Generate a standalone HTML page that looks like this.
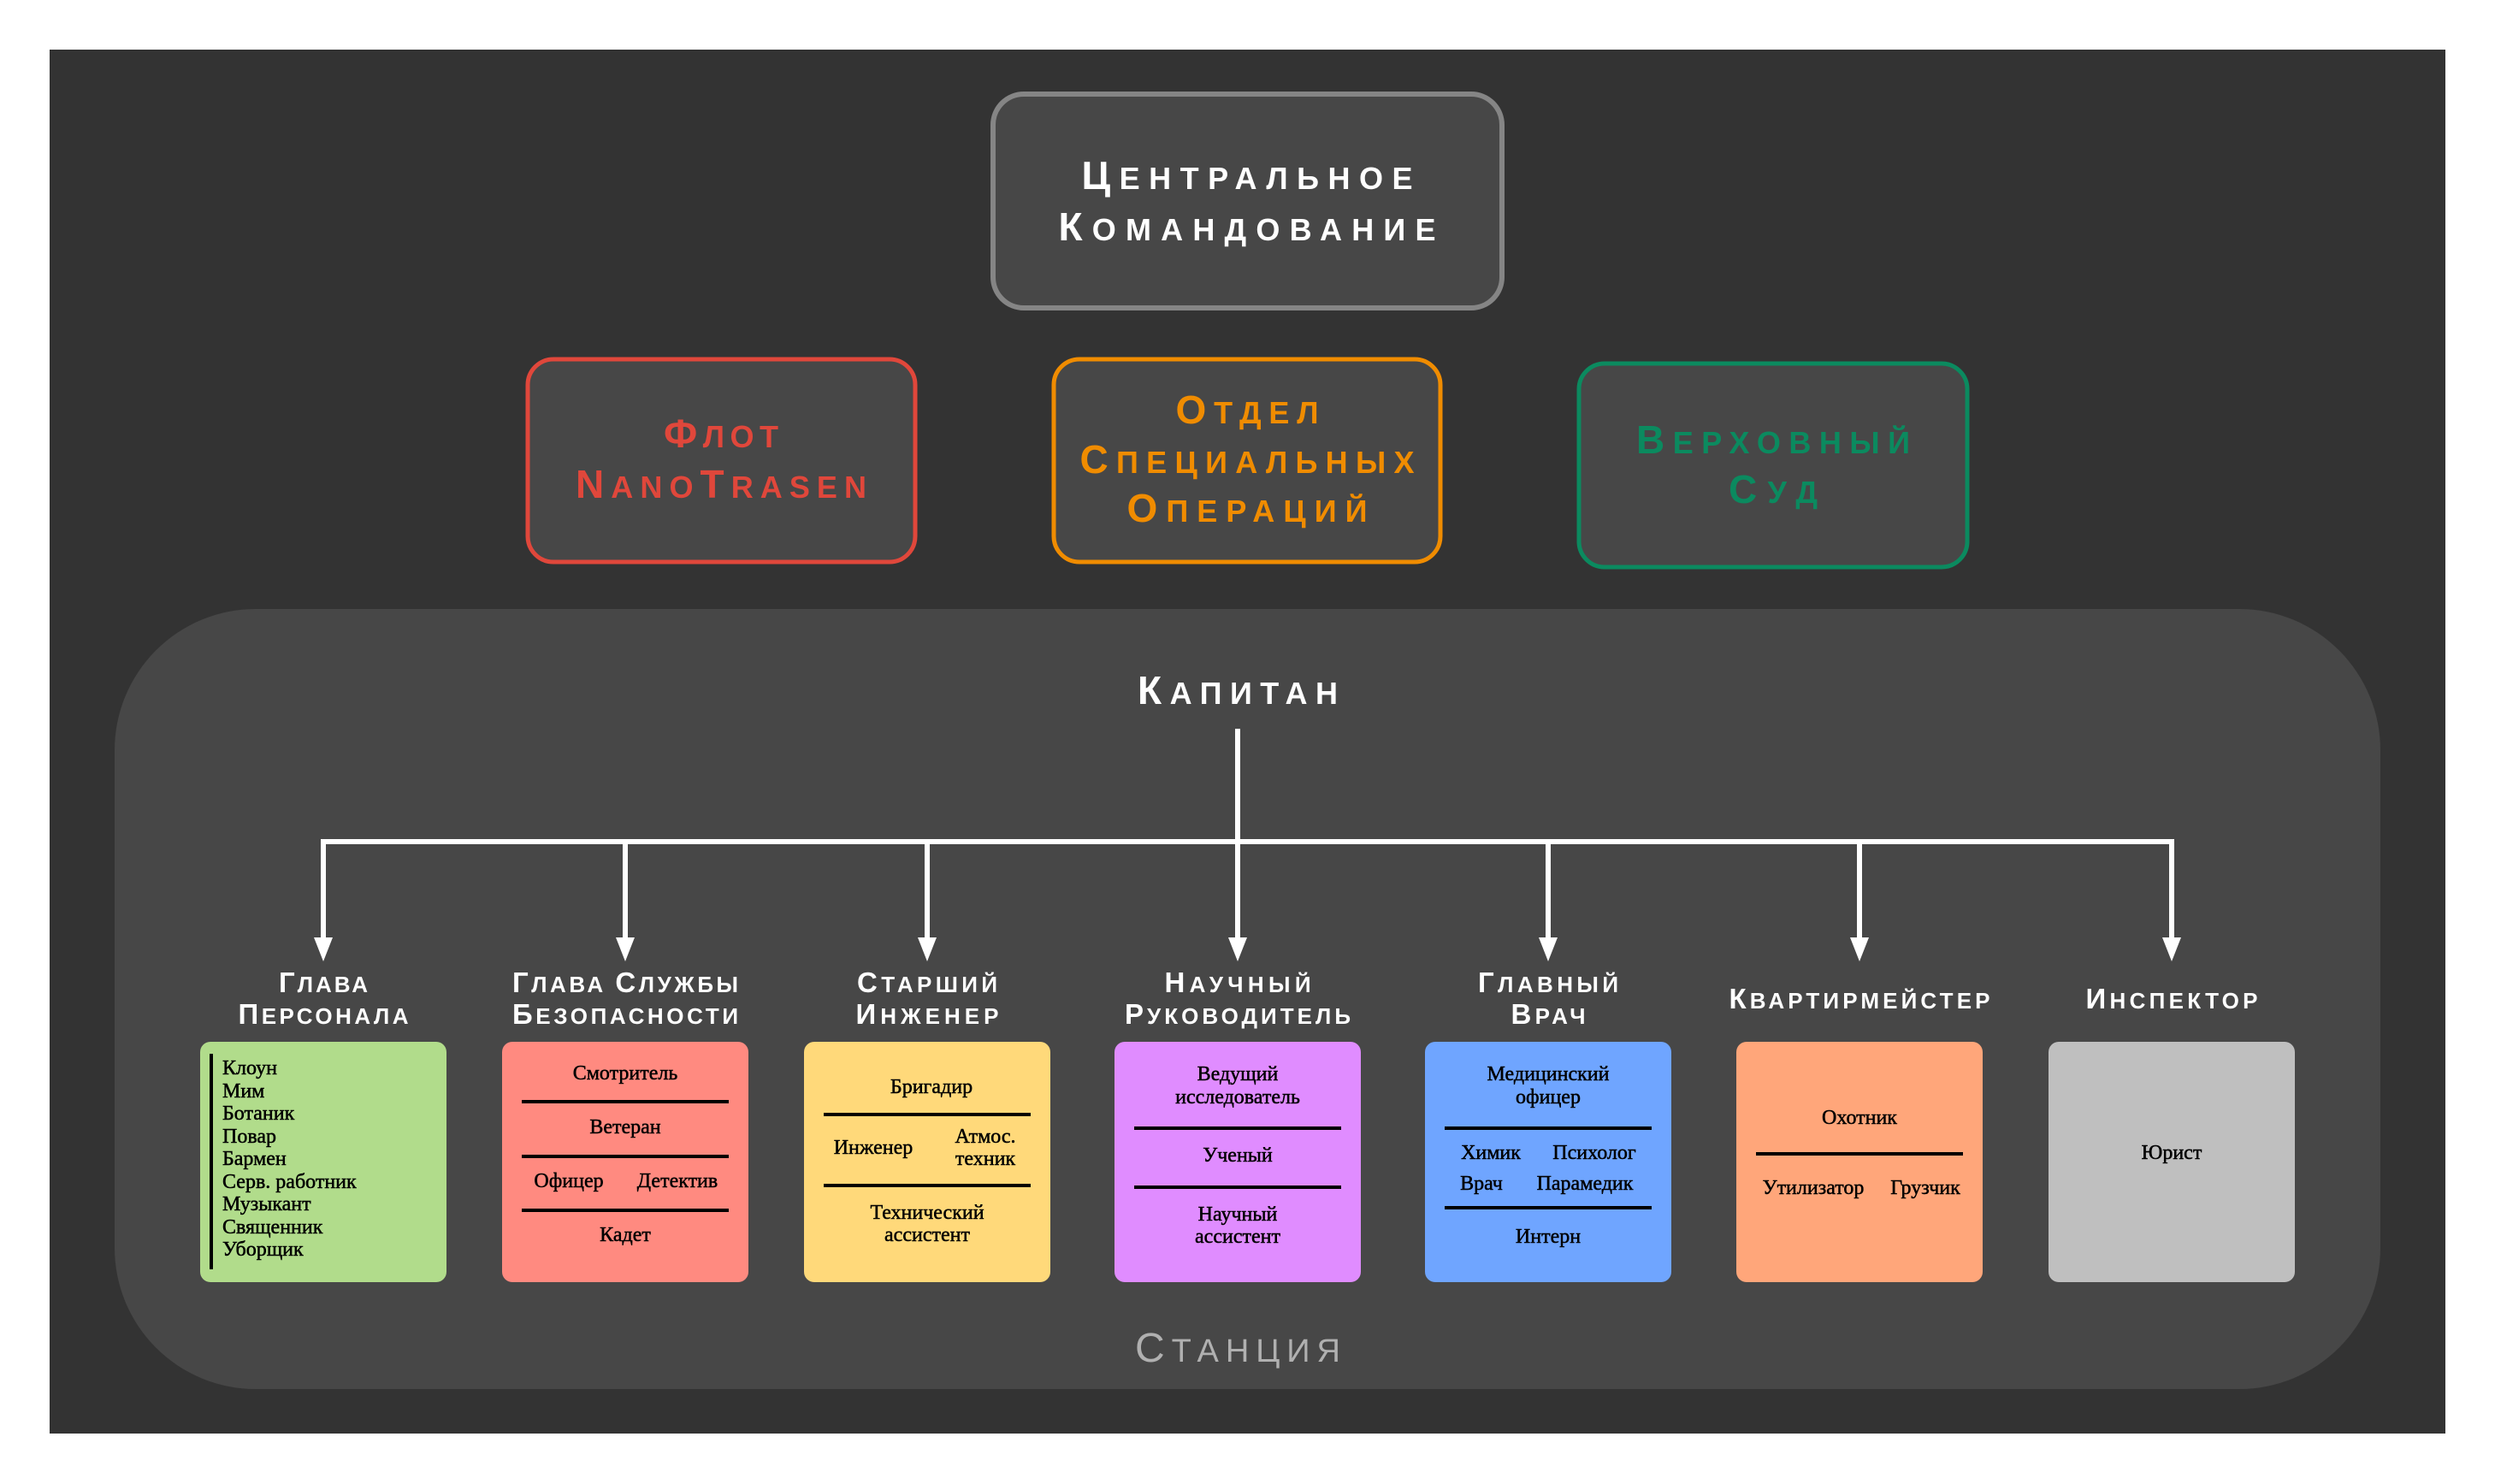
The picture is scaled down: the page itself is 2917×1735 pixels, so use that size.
<!DOCTYPE html>
<html><head><meta charset="utf-8"><style>html,body{margin:0;padding:0;background:#fff}svg{display:block}</style></head>
<body>
<svg xmlns="http://www.w3.org/2000/svg" width="2917" height="1735" viewBox="0 0 2917 1735">
<rect x="0" y="0" width="2917" height="1735" fill="#fff"/>
<rect x="58" y="58" width="2801" height="1618" fill="#333"/>

<g font-family="Liberation Sans, sans-serif" text-anchor="middle">
<rect x="1161" y="110" width="595" height="250" rx="36" fill="#474747" stroke="#858585" stroke-width="6"/>
<text x="1458" y="221" font-size="36" font-weight="bold" fill="#fff" textLength="387" lengthAdjust="spacing"><tspan font-size="46">Ц</tspan>ЕНТРАЛЬНОЕ</text>
<text x="1458" y="281" font-size="36" font-weight="bold" fill="#fff" textLength="441" lengthAdjust="spacing"><tspan font-size="46">К</tspan>ОМАНДОВАНИЕ</text>

<rect x="617" y="420" width="453" height="237" rx="30" fill="#474747" stroke="#e0473b" stroke-width="5"/>
<text x="843" y="523" font-size="36" font-weight="bold" fill="#e0473b" textLength="134" lengthAdjust="spacing"><tspan font-size="46">Ф</tspan>ЛОТ</text>
<text x="843" y="582" font-size="36" font-weight="bold" fill="#e0473b" textLength="340" lengthAdjust="spacing"><tspan font-size="46">N</tspan>ANO<tspan font-size="46">T</tspan>RASEN</text>

<rect x="1232" y="420" width="452" height="237" rx="30" fill="#474747" stroke="#f08c00" stroke-width="5"/>
<text x="1458" y="495" font-size="36" font-weight="bold" fill="#f08c00" textLength="167" lengthAdjust="spacing"><tspan font-size="46">О</tspan>ТДЕЛ</text>
<text x="1458" y="553" font-size="36" font-weight="bold" fill="#f08c00" textLength="391" lengthAdjust="spacing"><tspan font-size="46">С</tspan>ПЕЦИАЛЬНЫХ</text>
<text x="1458" y="610" font-size="36" font-weight="bold" fill="#f08c00" textLength="281" lengthAdjust="spacing"><tspan font-size="46">О</tspan>ПЕРАЦИЙ</text>

<rect x="1846" y="425" width="454" height="238" rx="30" fill="#474747" stroke="#0b8a5f" stroke-width="5"/>
<text x="2073" y="530" font-size="36" font-weight="bold" fill="#0b8a5f" textLength="320" lengthAdjust="spacing"><tspan font-size="46">В</tspan>ЕРХОВНЫЙ</text>
<text x="2073" y="588" font-size="36" font-weight="bold" fill="#0b8a5f" textLength="104" lengthAdjust="spacing"><tspan font-size="46">С</tspan>УД</text>

<rect x="134" y="712" width="2649" height="912" rx="165" fill="#474747"/>
<text x="1447" y="823" font-size="36" font-weight="bold" fill="#fff" textLength="234" lengthAdjust="spacing"><tspan font-size="46">К</tspan>АПИТАН</text>
<text x="1447" y="1592" font-size="38" fill="#b0b0b0" textLength="240" lengthAdjust="spacing"><tspan font-size="48">С</tspan>ТАНЦИЯ</text>

<g stroke="#fff" stroke-width="6" fill="none">
<line x1="1447" y1="852" x2="1447" y2="1100"/>
<line x1="375" y1="984" x2="2542" y2="984"/>
<line x1="378" y1="981" x2="378" y2="1100"/>
<line x1="731" y1="981" x2="731" y2="1100"/>
<line x1="1084" y1="981" x2="1084" y2="1100"/>
<line x1="1810" y1="981" x2="1810" y2="1100"/>
<line x1="2174" y1="981" x2="2174" y2="1100"/>
<line x1="2539" y1="981" x2="2539" y2="1100"/>
</g>
<g fill="#fff">
<polygon points="367,1096 389,1096 378,1124"/>
<polygon points="720,1096 742,1096 731,1124"/>
<polygon points="1073,1096 1095,1096 1084,1124"/>
<polygon points="1436,1096 1458,1096 1447,1124"/>
<polygon points="1799,1096 1821,1096 1810,1124"/>
<polygon points="2163,1096 2185,1096 2174,1124"/>
<polygon points="2528,1096 2550,1096 2539,1124"/>
</g>

<g font-size="26" fill="#fff" font-weight="bold">
<text x="378" y="1160" textLength="104" lengthAdjust="spacing"><tspan font-size="33">Г</tspan>ЛАВА</text>
<text x="378" y="1197" textLength="199" lengthAdjust="spacing"><tspan font-size="33">П</tspan>ЕРСОНАЛА</text>
<text x="731" y="1160" textLength="264" lengthAdjust="spacing"><tspan font-size="33">Г</tspan>ЛАВА <tspan font-size="33">С</tspan>ЛУЖБЫ</text>
<text x="731" y="1197" textLength="264" lengthAdjust="spacing"><tspan font-size="33">Б</tspan>ЕЗОПАСНОСТИ</text>
<text x="1084" y="1160" textLength="164" lengthAdjust="spacing"><tspan font-size="33">С</tspan>ТАРШИЙ</text>
<text x="1084" y="1197" textLength="167" lengthAdjust="spacing"><tspan font-size="33">И</tspan>НЖЕНЕР</text>
<text x="1447" y="1160" textLength="171" lengthAdjust="spacing"><tspan font-size="33">Н</tspan>АУЧНЫЙ</text>
<text x="1447" y="1197" textLength="264" lengthAdjust="spacing"><tspan font-size="33">Р</tspan>УКОВОДИТЕЛЬ</text>
<text x="1810" y="1160" textLength="164" lengthAdjust="spacing"><tspan font-size="33">Г</tspan>ЛАВНЫЙ</text>
<text x="1810" y="1197" textLength="87" lengthAdjust="spacing"><tspan font-size="33">В</tspan>РАЧ</text>
<text x="2174" y="1179" textLength="305" lengthAdjust="spacing"><tspan font-size="33">К</tspan>ВАРТИРМЕЙСТЕР</text>
<text x="2539" y="1179" textLength="201" lengthAdjust="spacing"><tspan font-size="33">И</tspan>НСПЕКТОР</text>
</g>
</g>

<rect x="234" y="1218" width="288" height="281" rx="12" fill="#b1dc8b"/>
<rect x="587" y="1218" width="288" height="281" rx="12" fill="#ff8a80"/>
<rect x="940" y="1218" width="288" height="281" rx="12" fill="#ffd97a"/>
<rect x="1303" y="1218" width="288" height="281" rx="12" fill="#e08cff"/>
<rect x="1666" y="1218" width="288" height="281" rx="12" fill="#6fa5ff"/>
<rect x="2030" y="1218" width="288" height="281" rx="12" fill="#ffa67a"/>
<rect x="2395" y="1218" width="288" height="281" rx="12" fill="#bfbfbf"/>

<g stroke="#000" stroke-width="4">
<line x1="247" y1="1232" x2="247" y2="1484"/>
<line x1="610" y1="1288" x2="852" y2="1288"/>
<line x1="610" y1="1352" x2="852" y2="1352"/>
<line x1="610" y1="1415" x2="852" y2="1415"/>
<line x1="963" y1="1303" x2="1205" y2="1303"/>
<line x1="963" y1="1386" x2="1205" y2="1386"/>
<line x1="1326" y1="1319" x2="1568" y2="1319"/>
<line x1="1326" y1="1388" x2="1568" y2="1388"/>
<line x1="1689" y1="1319" x2="1931" y2="1319"/>
<line x1="1689" y1="1412" x2="1931" y2="1412"/>
<line x1="2053" y1="1349" x2="2295" y2="1349"/>
</g>

<g font-family="Liberation Serif, serif" font-size="24" fill="#000" stroke="#000" stroke-width="0.5">
<g>
<text x="260" y="1256">Клоун</text>
<text x="260" y="1283">Мим</text>
<text x="260" y="1309">Ботаник</text>
<text x="260" y="1336">Повар</text>
<text x="260" y="1362">Бармен</text>
<text x="260" y="1389">Серв. работник</text>
<text x="260" y="1415">Музыкант</text>
<text x="260" y="1442">Священник</text>
<text x="260" y="1468">Уборщик</text>
</g>
<g text-anchor="middle">
<text x="731" y="1262">Смотритель</text>
<text x="731" y="1325">Ветеран</text>
<text x="665" y="1388">Офицер</text>
<text x="792" y="1388">Детектив</text>
<text x="731" y="1451">Кадет</text>

<text x="1089" y="1278">Бригадир</text>
<text x="1021" y="1349">Инженер</text>
<text x="1152" y="1336">Атмос.</text>
<text x="1152" y="1362">техник</text>
<text x="1084" y="1425">Технический</text>
<text x="1084" y="1451">ассистент</text>

<text x="1447" y="1263">Ведущий</text>
<text x="1447" y="1290">исследователь</text>
<text x="1447" y="1358">Ученый</text>
<text x="1447" y="1427">Научный</text>
<text x="1447" y="1453">ассистент</text>

<text x="1810" y="1263">Медицинский</text>
<text x="1810" y="1290">офицер</text>
<text x="1743" y="1355">Химик</text>
<text x="1864" y="1355">Психолог</text>
<text x="1732" y="1391">Врач</text>
<text x="1853" y="1391">Парамедик</text>
<text x="1810" y="1453">Интерн</text>

<text x="2174" y="1314">Охотник</text>
<text x="2120" y="1396">Утилизатор</text>
<text x="2251" y="1396">Грузчик</text>

<text x="2539" y="1355">Юрист</text>
</g>
</g>
</svg>
</body></html>
